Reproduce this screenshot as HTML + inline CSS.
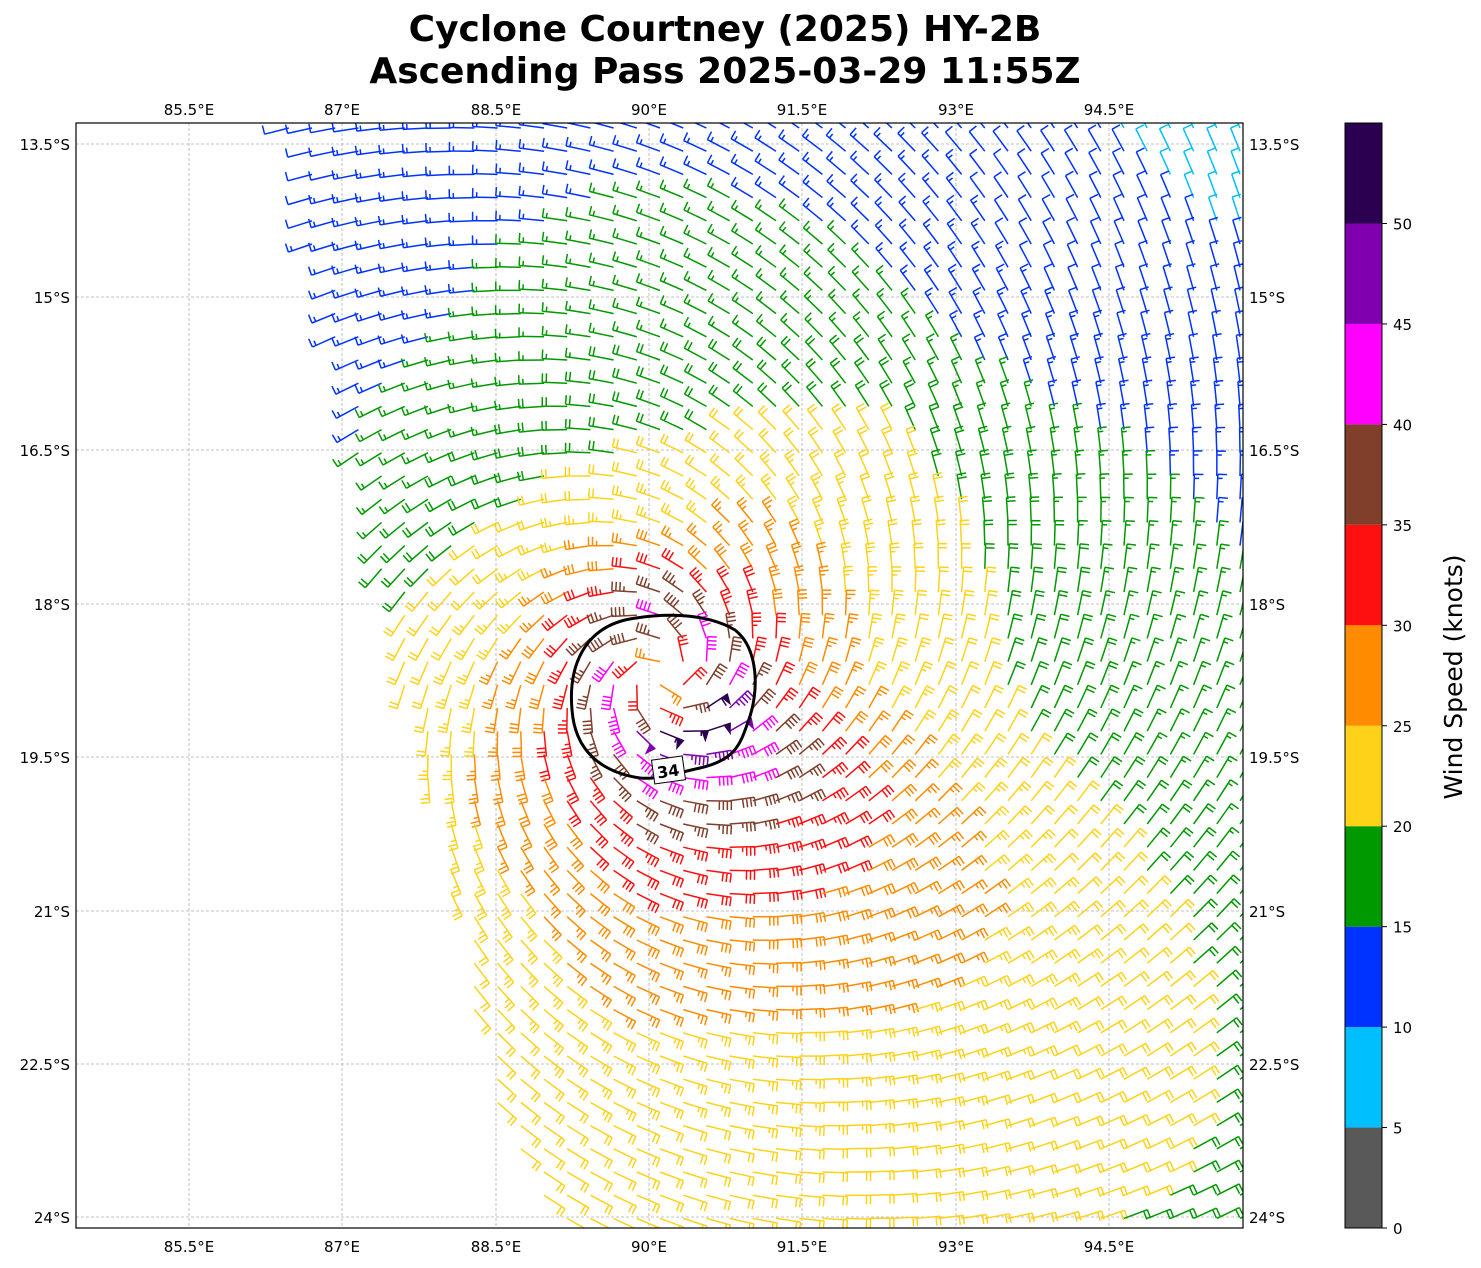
<!DOCTYPE html>
<html><head><meta charset="utf-8">
<style>
html,body{margin:0;padding:0;background:#fff;}
body{width:1481px;height:1264px;overflow:hidden;font-family:"DejaVu Sans","Liberation Sans",sans-serif;}
</style></head>
<body>
<svg id="s" width="1481" height="1264" xmlns="http://www.w3.org/2000/svg" font-family="DejaVu Sans, Liberation Sans, sans-serif">
<text x="725" y="41" font-size="36" font-weight="bold" text-anchor="middle">Cyclone Courtney (2025) HY-2B</text>
<text x="725" y="83" font-size="36" font-weight="bold" text-anchor="middle">Ascending Pass 2025-03-29 11:55Z</text>
<defs><clipPath id="cp"><rect x="76" y="123" width="1167" height="1105"/></clipPath></defs>
<g id="grid" stroke="#b0b0b0" stroke-width="0.8" stroke-dasharray="3,2"></g>
<g id="barbs" clip-path="url(#cp)" fill="none" stroke-width="1.5" stroke-linecap="butt"></g>
<path d="M640,778 C600,772 575,750 572,710 C568,665 585,630 625,620 C660,613 705,612 735,630 C758,648 760,690 748,722 C740,745 735,760 700,768 C680,772 660,780 640,778 Z" fill="none" stroke="#000" stroke-width="3"/>
<rect x="653" y="758" width="31" height="24" fill="#fff" stroke="#000" stroke-width="1" transform="rotate(-8 668 770)"/>
<text x="668" y="777" font-size="16" font-weight="bold" text-anchor="middle" transform="rotate(-8 668 770)">34</text>
<rect x="76" y="123" width="1167" height="1105" fill="none" stroke="#000" stroke-width="1.2"/>
<g id="ticks" font-size="15"></g>
<g id="cbar"></g>
<text transform="translate(1462,677) rotate(-90)" font-size="25" text-anchor="middle">Wind Speed (knots)</text>
</svg>
<script>
var NS="http://www.w3.org/2000/svg";
function el(t,a,p,txt){var e=document.createElementNS(NS,t);for(var k in a)e.setAttribute(k,a[k]);if(txt!==undefined)e.textContent=txt;p.appendChild(e);return e;}
var grid=document.getElementById('grid'),ticks=document.getElementById('ticks');
var lons=[["85.5°E",189],["87°E",342],["88.5°E",496],["90°E",649],["91.5°E",802],["93°E",956],["94.5°E",1109]];
var lats=[["13.5°S",144],["15°S",297],["16.5°S",450],["18°S",604],["19.5°S",757],["21°S",911],["22.5°S",1064],["24°S",1217]];
lons.forEach(function(l){el('line',{x1:l[1],x2:l[1],y1:123,y2:1228},grid);
 el('text',{x:l[1],y:115,'text-anchor':'middle'},ticks,l[0]);el('text',{x:l[1],y:1252,'text-anchor':'middle'},ticks,l[0]);});
lats.forEach(function(l){el('line',{x1:76,x2:1243,y1:l[1],y2:l[1]},grid);
 el('text',{x:70,y:l[1]+6,'text-anchor':'end'},ticks,l[0]);el('text',{x:1249,y:l[1]+6},ticks,l[0]);});
var cols=["#595959","#00bfff","#0033ff","#009900","#ffd21a","#ff8c00","#ff1010","#7f3f2a","#ff00ff","#8000b0","#2b0050"];
var cb=document.getElementById('cbar');
for(var i=0;i<11;i++){var y1=1228-(i+1)*100.45;el('rect',{x:1345,y:y1,width:37,height:100.45,fill:cols[i]},cb);}
el('rect',{x:1345,y:123,width:37,height:1105,fill:'none',stroke:'#000','stroke-width':1},cb);
for(var i=0;i<=10;i++){var y=1228-i*100.45;el('line',{x1:1382,x2:1387,y1:y,y2:y,stroke:'#000'},cb);
 el('text',{x:1393,y:y+6,'font-size':15},cb,String(i*5));}
var g=document.getElementById('barbs');
var cx=662,cy=675,ppd=102.3;
// by screen angle: E, SE, S, SW, W, NW, N, NE
var R20=[3.3,7.0,5.8,4.0,2.8,2.2,2.2,3.3];
var R15=[6.0,10.0,7.5,5.5,4.0,3.8,4.8,4.4];
function interp(A,ang){var t=((ang/(Math.PI/4))%8+8)%8,i=Math.floor(t),f=t-i,w=(1-Math.cos(f*Math.PI))/2;return A[i]*(1-w)+A[(i+1)%8]*w;}
function xl(y){return y<1120?290+206*(y-145)/975:496+(y-1120)*0.55;}
var sp=23.2;
for(var y=128;y<1240;y+=sp){for(var x=80;x<1245;x+=sp){
 if(x<xl(y)||x>1241)continue;
 var dx=x-cx,dy=y-cy,r=Math.sqrt(dx*dx+dy*dy)/ppd;if(r<0.05)continue;
 var ang=Math.atan2(dy,dx);
 var a20=interp(R20,ang),a15=interp(R15,ang);
 var outer;
 if(r<a20) outer=20*Math.pow(a20/r,0.42);
 else {var p=Math.log(4/3)/Math.log(a15/a20);outer=20*Math.pow(a20/r,p);}
 var core;
 if(r<0.5) core=42*(0.5+0.5*r/0.5);
 else if(r<0.85) core=42.4*Math.pow(0.5/r,0.36);
 else core=35*Math.pow(0.85/r,0.6);
 var v=r<0.5?core:Math.max(outer,core);
 var tx=-dy/(r*ppd),ty=dx/(r*ppd),rx=-dx/(r*ppd),ry=-dy/(r*ppd),a=0.35;
 var ux=Math.cos(a)*tx+Math.sin(a)*rx,uy=Math.cos(a)*ty+Math.sin(a)*ry;
 var L=25,ex=x-ux*L,ey=y-uy*L,dxs=-ux,dys=-uy,nx=-dys,ny=dxs;
 var c=cols[Math.min(10,Math.floor(v/5))];
 var d="M"+x.toFixed(1)+","+y.toFixed(1)+"L"+ex.toFixed(1)+","+ey.toFixed(1);
 var n=Math.round(v/5)*5,pos=0,fl=n>=50;
 if(fl){var f=Math.floor(n/50);n-=50*f;
  for(var k=0;k<f;k++){var bx=ex-dxs*pos,by=ey-dys*pos;
   d+="M"+bx.toFixed(1)+","+by.toFixed(1)+"L"+(bx+nx*9-dxs*3).toFixed(1)+","+(by+ny*9-dys*3).toFixed(1)+"L"+(bx-dxs*6).toFixed(1)+","+(by-dys*6).toFixed(1)+"Z";pos+=7;}}
 var full=Math.floor(n/10),half=(n%10)>=5;
 for(var k=0;k<full;k++){var bx=ex-dxs*pos,by=ey-dys*pos;
  d+="M"+bx.toFixed(1)+","+by.toFixed(1)+"l"+(nx*9).toFixed(1)+","+(ny*9).toFixed(1);pos+=4;}
 if(half){if(pos===0)pos=4;var bx=ex-dxs*pos,by=ey-dys*pos;
  d+="M"+bx.toFixed(1)+","+by.toFixed(1)+"l"+(nx*5).toFixed(1)+","+(ny*5).toFixed(1);}
 el('path',{d:d,stroke:c,fill:fl?c:'none'},g);
}}
</script>
</body></html>
